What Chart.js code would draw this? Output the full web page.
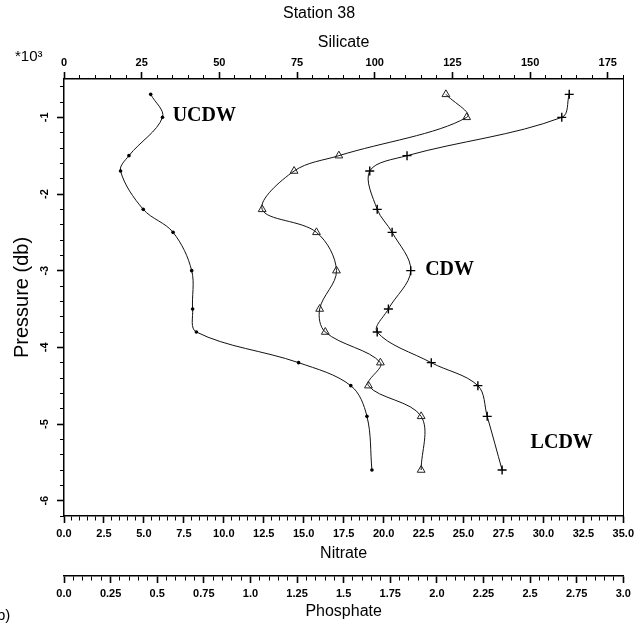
<!DOCTYPE html>
<html>
<head>
<meta charset="utf-8">
<script src="https://cdn.jsdelivr.net/npm/chart.js@4.4.0/dist/chart.umd.min.js"></script>
<style>
  body { margin: 0; background: #fff; }
  canvas { display: block; }
</style>
</head>
<body>
<canvas id="chart" width="638" height="623"></canvas>
<script>
// pressure levels (db), shared by the three profiles
var pressure = [-700, -1000, -1500, -1700, -2200, -2500, -3000, -3500, -3800, -4200, -4500, -4900, -5600];
var silicate = [27.9, 31.7, 20.9, 18.2, 25.5, 35.1, 41.1, 41.4, 42.6, 75.5, 92.3, 97.5, 99.1];
var nitrate = [23.9, 25.2, 17.2, 14.4, 12.4, 15.8, 17.05, 16.0, 16.35, 19.8, 19.05, 22.35, 22.35];
var phosphate = [2.71, 2.67, 1.84, 1.64, 1.68, 1.76, 1.86, 1.74, 1.68, 1.97, 2.22, 2.27, 2.35];

// water mass labels, anchored in nitrate / pressure units
var waterMasses = ['UCDW', 'CDW', 'LCDW'];
var massNitrate = [6.8, 22.6, 29.2];
var massPressure = [-975, -2990, -5240];

var sans = '"Liberation Sans", Arial, Helvetica, sans-serif';
Chart.defaults.font.family = sans;
Chart.defaults.color = '#000';

function isMajor(v, step) {
    var r = v / step;
    return Math.abs(r - Math.round(r)) < 1e-6;
}

// ticks only, no grid; minor ticks are shortened with a dash
function tickGrid(step, fromAxis) {
    return {
        drawOnChartArea: false,
        drawTicks: true,
        tickLength: 7,
        tickColor: '#000',
        tickWidth: function (ctx) {
            return isMajor(ctx.tick.value, step) ? 1.6 : 1;
        },
        tickBorderDash: function (ctx) {
            if (isMajor(ctx.tick.value, step)) return [];
            return fromAxis ? [4, 20] : [0, 3, 4, 20];
        }
    };
}

var border = { display: true, color: '#000', width: 1.5 };
var tickFont = { size: 11, weight: 'bold' };

function profile(values) {
    return values.map(function (v, i) {
        return { x: v, y: pressure[i] };
    });
}

var lineStyle = {
    showLine: true,
    borderColor: '#111',
    borderWidth: 1,
    tension: 0.35,
    yAxisID: 'y'
};

var labelsPlugin = {
    id: 'waterMassLabels',
    afterDraw: function (chart) {
        var ctx = chart.ctx;
        var xs = chart.scales.nitrate;
        var ys = chart.scales.y;
        ctx.save();
        ctx.fillStyle = '#000';
        ctx.textBaseline = 'middle';
        ctx.font = 'bold 20px "Liberation Serif", "Times New Roman", serif';
        waterMasses.forEach(function (name, i) {
            ctx.fillText(name, xs.getPixelForValue(massNitrate[i]), ys.getPixelForValue(massPressure[i]));
        });
        ctx.font = '15px ' + sans;
        ctx.fillText('*10\u00B3', 15, 57);
        ctx.fillText('b)', -3, 616);
        ctx.restore();
    }
};

new Chart(document.getElementById('chart'), {
    type: 'scatter',
    data: {
        datasets: [
            Object.assign({
                label: 'Silicate',
                data: profile(silicate),
                xAxisID: 'silicate',
                pointStyle: 'circle',
                pointRadius: 1.8,
                pointBackgroundColor: '#000',
                pointBorderWidth: 0
            }, lineStyle),
            Object.assign({
                label: 'Nitrate',
                data: profile(nitrate),
                xAxisID: 'nitrate',
                pointStyle: 'triangle',
                pointRadius: 4.5,
                pointBackgroundColor: 'rgba(255,255,255,0)',
                pointBorderColor: '#222',
                pointBorderWidth: 1
            }, lineStyle),
            Object.assign({
                label: 'Phosphate',
                data: profile(phosphate),
                xAxisID: 'phosphate',
                pointStyle: 'cross',
                pointRadius: 4.5,
                pointBorderColor: '#000',
                pointBorderWidth: 1.4
            }, lineStyle)
        ]
    },
    options: {
        responsive: false,
        animation: false,
        layout: { padding: 0 },
        plugins: {
            legend: { display: false },
            tooltip: { enabled: false },
            title: {
                display: true,
                text: 'Station 38',
                font: { size: 16, weight: 'normal' },
                padding: { top: 4, bottom: 0 }
            }
        },
        scales: {
            silicate: {
                type: 'linear',
                position: 'top',
                min: 0,
                max: 180,
                border: border,
                grid: tickGrid(25, false),
                ticks: {
                    stepSize: 5,
                    autoSkip: false,
                    maxRotation: 0,
                    padding: 2,
                    font: tickFont,
                    callback: function (v) { return isMajor(v, 25) ? String(v) : ''; }
                },
                title: { display: true, text: 'Silicate', font: { size: 16 }, padding: { top: 10, bottom: 0 } },
                afterFit: function (scale) { scale.height = 55.8; }
            },
            nitrate: {
                type: 'linear',
                position: 'bottom',
                weight: 1,
                min: 0,
                max: 35,
                border: border,
                grid: tickGrid(2.5, true),
                ticks: {
                    stepSize: 0.5,
                    autoSkip: false,
                    maxRotation: 0,
                    padding: 4,
                    font: tickFont,
                    callback: function (v) { return isMajor(v, 2.5) ? v.toFixed(1) : ''; }
                },
                title: { display: true, text: 'Nitrate', font: { size: 16 }, padding: { top: 0, bottom: 13 } },
                afterFit: function (scale) { scale.height = 60; }
            },
            phosphate: {
                type: 'linear',
                position: 'bottom',
                weight: 2,
                min: 0,
                max: 3,
                border: border,
                grid: tickGrid(0.25, true),
                ticks: {
                    stepSize: 0.05,
                    autoSkip: false,
                    maxRotation: 0,
                    padding: 4,
                    font: tickFont,
                    callback: function (v) {
                        if (!isMajor(v, 0.25)) return '';
                        return isMajor(v, 0.5) ? v.toFixed(1) : v.toFixed(2);
                    }
                },
                title: { display: true, text: 'Phosphate', font: { size: 16 }, padding: { top: 0, bottom: 1.5 } },
                afterFit: function (scale) { scale.height = 47; }
            },
            y: {
                type: 'linear',
                position: 'left',
                min: -6200,
                max: -500,
                border: border,
                grid: tickGrid(1000, false),
                ticks: {
                    stepSize: 200,
                    includeBounds: false,
                    autoSkip: false,
                    minRotation: 90,
                    maxRotation: 90,
                    crossAlign: 'center',
                    padding: 7,
                    font: tickFont,
                    callback: function (v) { return isMajor(v, 1000) ? String(v / 1000) : ''; }
                },
                title: { display: true, text: 'Pressure (db)', font: { size: 20 }, padding: { top: 10, bottom: 0 } },
                afterFit: function (scale) { scale.width = 64; }
            },
            yRight: {
                type: 'linear',
                position: 'right',
                min: -6200,
                max: -500,
                border: { display: true, color: '#000', width: 1 },
                grid: { drawOnChartArea: false, drawTicks: false },
                ticks: { display: false },
                afterFit: function (scale) { scale.width = 12; }
            }
        }
    },
    plugins: [labelsPlugin]
});
</script>
</body>
</html>
